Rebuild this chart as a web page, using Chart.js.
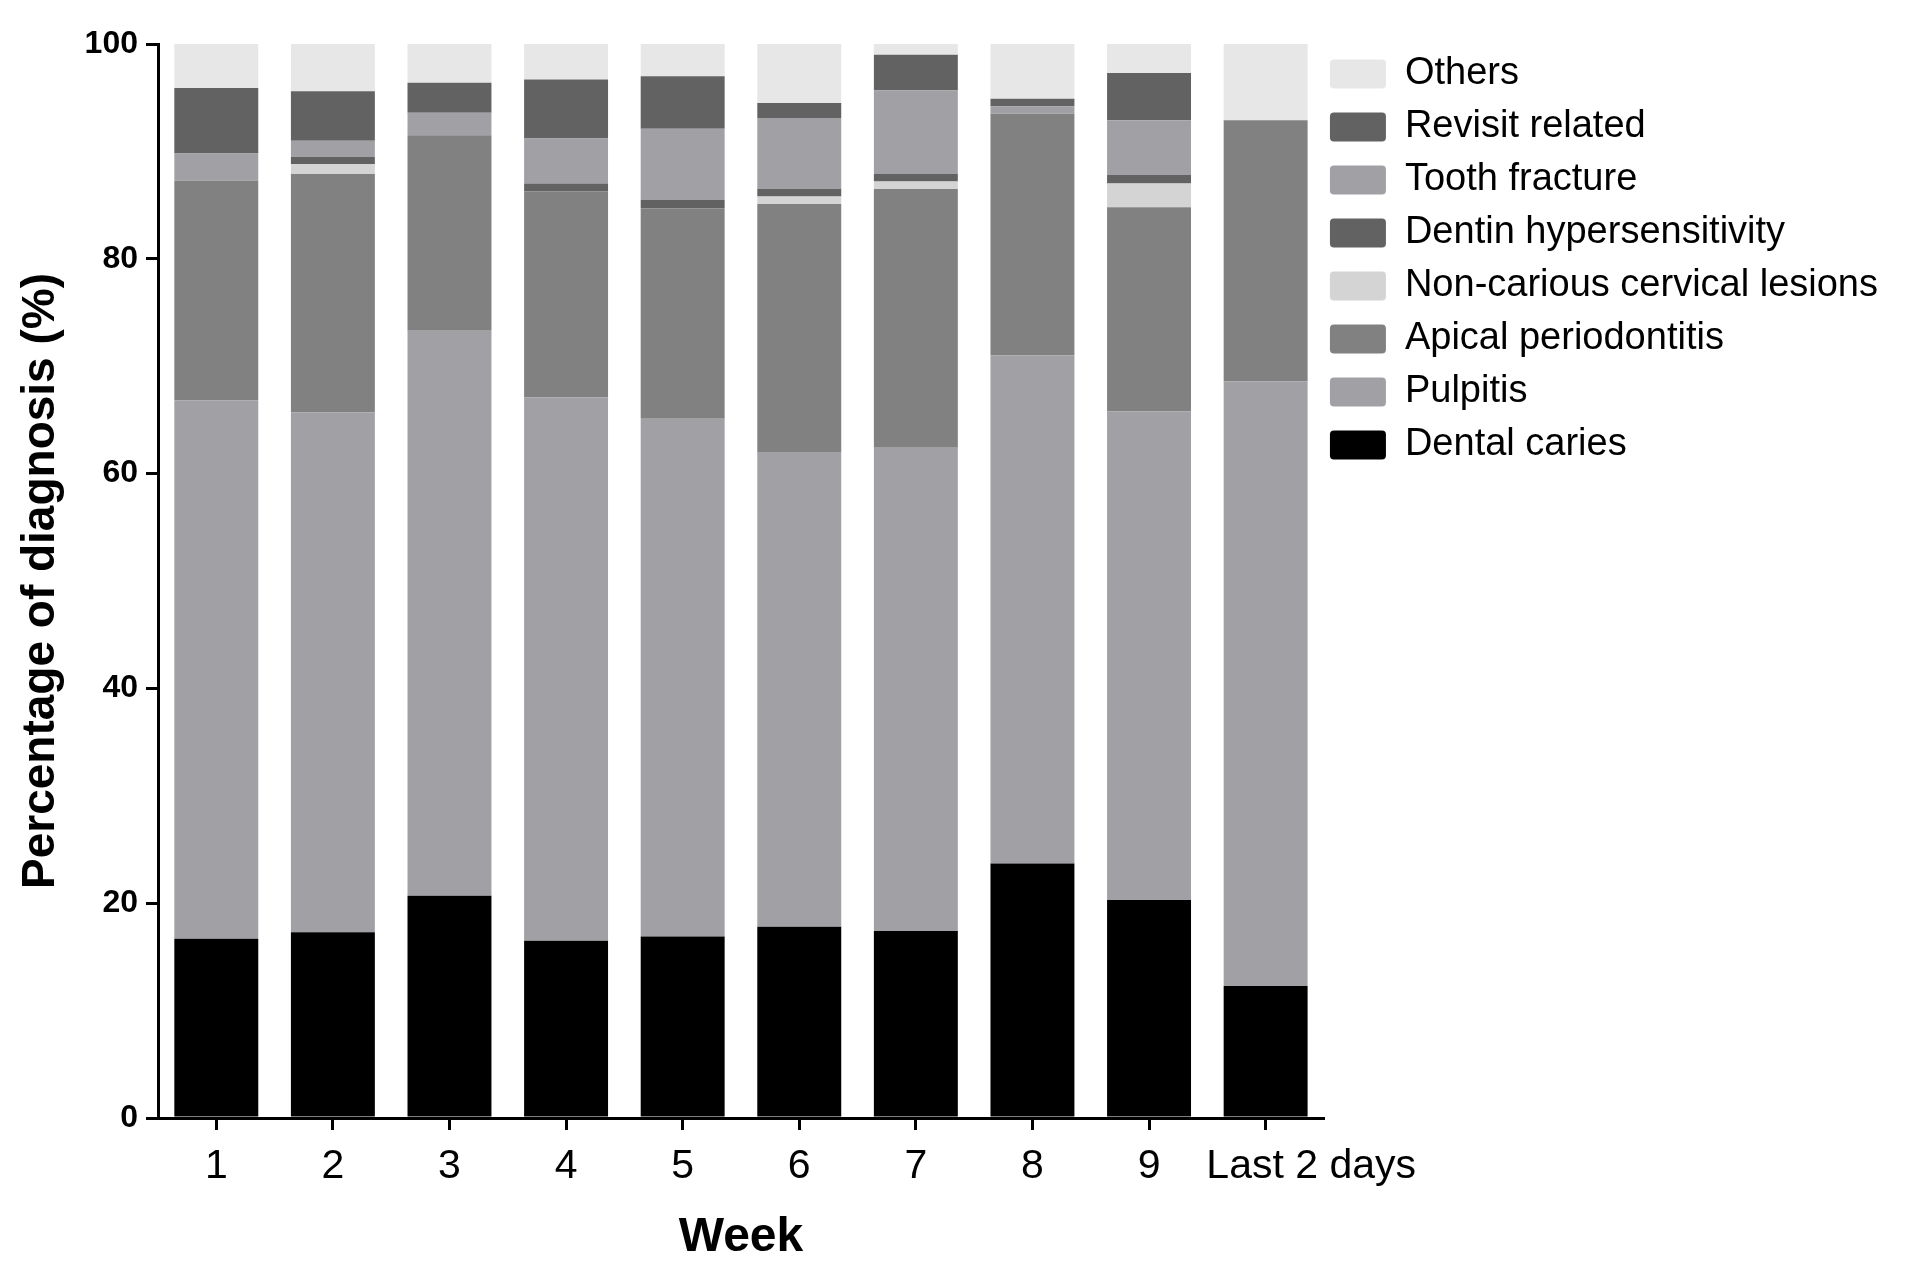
<!DOCTYPE html>
<html>
<head>
<meta charset="utf-8">
<script src="https://cdn.jsdelivr.net/npm/chart.js@4.4.1/dist/chart.umd.min.js"></script>
<style>
  html, body { margin: 0; padding: 0; background: #fff; }
  #wrap { width: 1912px; height: 1271px; }
</style>
</head>
<body>
<div id="wrap"><canvas id="bar-chart" width="1912" height="1271"></canvas></div>
<script>
// week labels on the x axis
const weeks = ['1', '2', '3', '4', '5', '6', '7', '8', '9', 'Last 2 days'];

// percentage of each diagnosis per week (stack order, bottom to top)
const dentalCaries   = [16.7, 17.3, 20.7, 16.5, 16.9, 17.8, 17.4, 23.7, 20.3, 12.3];
const pulpitis       = [50.1, 48.4, 52.6, 50.6, 48.2, 44.2, 45.0, 47.3, 45.5, 56.3];
const apical         = [20.5, 22.2, 18.2, 19.2, 19.6, 23.1, 24.1, 22.5, 19.0, 24.3];
const nonCarious     = [0, 0.9, 0, 0, 0, 0.7, 0.7, 0, 2.2, 0];
const dentinHyper    = [0, 0.7, 0, 0.7, 0.8, 0.7, 0.7, 0, 0.8, 0];
const toothFracture  = [2.5, 1.5, 2.1, 4.2, 6.6, 6.6, 7.8, 0.7, 5.1, 0];
const revisitRelated = [6.1, 4.6, 2.8, 5.5, 4.9, 1.4, 3.3, 0.7, 4.4, 0];
const others         = [4.1, 4.4, 3.6, 3.3, 3.0, 5.5, 1.0, 5.1, 2.7, 7.1];

const yTicks = [0, 20, 40, 60, 80, 100];

const FONT = '"Liberation Sans", Arial, Helvetica, sans-serif';

// nudge the legend so it sits where the original one does
const legendShift = {
    id: 'legendShift',
    afterLayout(chart) {
        const lg = chart.legend;
        lg.left -= 9; lg.right -= 9;
        lg.top -= 4; lg.bottom -= 4;
    }
};

new Chart(document.getElementById('bar-chart'), {
    type: 'bar',
    data: {
        labels: weeks,
        datasets: [
            { label: 'Dental caries', data: dentalCaries, backgroundColor: '#000000' },
            { label: 'Pulpitis', data: pulpitis, backgroundColor: '#a1a0a5' },
            { label: 'Apical periodontitis', data: apical, backgroundColor: '#818181' },
            { label: 'Non-carious cervical lesions', data: nonCarious, backgroundColor: '#d4d4d4' },
            { label: 'Dentin hypersensitivity', data: dentinHyper, backgroundColor: '#626262' },
            { label: 'Tooth fracture', data: toothFracture, backgroundColor: '#a1a0a5' },
            { label: 'Revisit related', data: revisitRelated, backgroundColor: '#626262' },
            { label: 'Others', data: others, backgroundColor: '#e7e7e7' }
        ]
    },
    plugins: [legendShift],
    options: {
        responsive: false,
        devicePixelRatio: 1,
        animation: false,
        layout: { padding: { top: 44, right: 15, bottom: 0, left: 0 } },
        datasets: { bar: { categoryPercentage: 1, barPercentage: 0.72, borderWidth: 0 } },
        plugins: {
            tooltip: { enabled: false },
            legend: {
                display: true,
                position: 'right',
                align: 'start',
                reverse: true,
                maxWidth: 640,
                labels: {
                    boxWidth: 56,
                    boxHeight: 29,
                    padding: 15,
                    useBorderRadius: true,
                    borderRadius: 4,
                    color: '#000',
                    font: { family: FONT, size: 38 }
                }
            }
        },
        scales: {
            x: {
                stacked: true,
                afterFit(scale) { scale.height = 153; },
                border: { display: true, color: '#000', width: 3 },
                grid: { drawOnChartArea: false, drawTicks: true, offset: false, tickLength: 12, tickColor: '#000', tickWidth: 3, lineWidth: 3 },
                ticks: {
                    color: '#000', padding: 12, maxRotation: 0, autoSkip: false,
                    font: { family: FONT, size: 41 },
                    // the last label sits a little to the right of its tick
                    callback(value, i) {
                        const lab = weeks[i];
                        return i === weeks.length - 1 ? '        ' + lab : lab;
                    }
                },
                title: { display: true, text: 'Week', color: '#000', padding: { top: 5 }, font: { family: FONT, size: 48, weight: 'bold' } }
            },
            y: {
                stacked: true,
                min: 0,
                max: 100,
                afterFit(scale) { scale.width = 158; },
                afterBuildTicks(scale) { scale.ticks = yTicks.map(v => ({ value: v })); },
                border: { display: true, color: '#000', width: 3 },
                grid: { drawOnChartArea: false, drawTicks: true, tickLength: 12, tickColor: '#000', tickWidth: 3, lineWidth: 3 },
                ticks: { color: '#000', padding: 8, font: { family: FONT, size: 32, weight: 'bold' } },
                title: { display: true, text: 'Percentage of diagnosis (%)', color: '#000', padding: { top: 14 }, font: { family: FONT, size: 46, weight: 'bold' } }
            }
        }
    }
});
</script>
</body>
</html>
